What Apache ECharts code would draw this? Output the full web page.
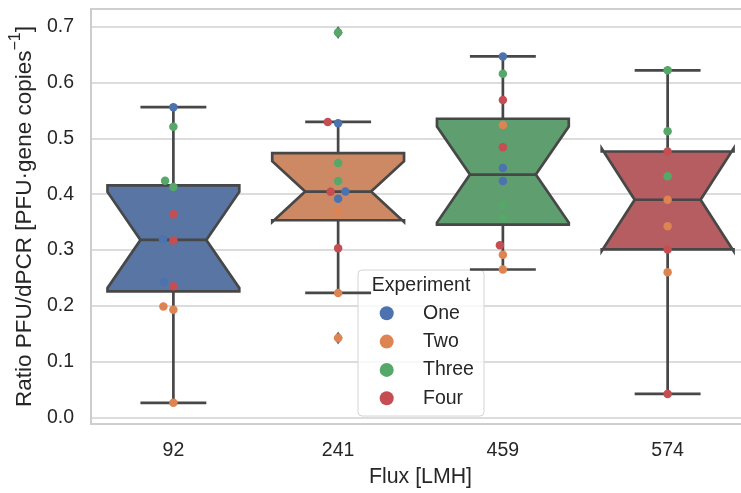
<!DOCTYPE html>
<html><head><meta charset="utf-8">
<script src="https://cdn.jsdelivr.net/npm/echarts@6/dist/echarts.min.js"></script>
<style>html,body{margin:0;padding:0;background:#fff;overflow:hidden;width:741px;height:493px}#c{width:760px;height:493px}</style>
</head><body><div id="c"></div>
<script>
// ---- data ----
const fluxLabels = ['92', '241', '459', '574'];
const experimentNames = ['One', 'Two', 'Three', 'Four'];
// values per flux category, for each experiment
const expOne   = [[0.556, 0.319, 0.2425], [0.527, 0.405, 0.392], [0.647, 0.447, 0.4235], []];
const expTwo   = [[0.193, 0.1985, 0.026], [0.370, 0.223, 0.142], [0.524, 0.2914, 0.265], [0.390, 0.3425, 0.260]];
const expThree = [[0.521, 0.424, 0.413], [0.690, 0.4557, 0.4235], [0.616, 0.381, 0.3575], [0.622, 0.513, 0.432]];
const expFour  = [[0.364, 0.317, 0.235], [0.5295, 0.4045, 0.303], [0.569, 0.484, 0.3086], [0.4765, 0.301, 0.042]];
const experiments = [expOne, expTwo, expThree, expFour];
const yTitle = 'Ratio PFU/dPCR [PFU·gene copies';
const ySup = '−1';
const xTitle = 'Flux [LMH]';
const legendTitle = 'Experiment';

// ---- style ----
const pointColors = ['#4c72b0', '#dd8452', '#55a868', '#c44e52'];
const boxColors = ['#5875a3', '#cc8963', '#5f9e6e', '#b55d60'];
const edge = '#474747';
const textColor = '#262626';
const FONT = "'Liberation Sans', Arial, sans-serif";

function quantile(s, p) {
  const pos = (s.length - 1) * p, lo = Math.floor(pos), hi = Math.ceil(pos);
  return s[lo] + (s[hi] - s[lo]) * (pos - lo);
}
function boxStats(vals) {
  const s = vals.slice().sort((a, b) => a - b);
  const q1 = quantile(s, 0.25), med = quantile(s, 0.5), q3 = quantile(s, 0.75);
  const iqr = q3 - q1, n = s.length;
  const nd = 1.57 * iqr / Math.sqrt(n);
  const lo = q1 - 1.5 * iqr, hi = q3 + 1.5 * iqr;
  const inside = s.filter(v => v >= lo && v <= hi);
  const wlo = Math.min(q1, Math.min(...inside));
  const whi = Math.max(q3, Math.max(...inside));
  const out = s.filter(v => v < lo || v > hi);
  return { q1, med, q3, nlo: med - nd, nhi: med + nd, wlo, whi, out };
}

const boxData = [], flierData = [];
fluxLabels.forEach((_, ci) => {
  const all = [];
  experiments.forEach(e => e[ci].forEach(v => all.push(v)));
  const st = boxStats(all);
  boxData.push([ci, st.q1, st.med, st.q3, st.nlo, st.nhi, st.wlo, st.whi]);
  st.out.forEach(v => flierData.push([ci, v]));
});

function renderBox(params, api) {
  const x = api.value(0);
  const q1 = api.value(1), med = api.value(2), q3 = api.value(3),
        nlo = api.value(4), nhi = api.value(5), wlo = api.value(6), whi = api.value(7);
  const half = 0.4, capHalf = 0.2;
  const P = (dx, y) => api.coord([x + dx, y]);
  const ls = { stroke: edge, lineWidth: 2.7, lineCap: 'butt' };
  const seg = (a, b) => ({ type: 'line', shape: { x1: a[0], y1: a[1], x2: b[0], y2: b[1] }, style: ls });
  const pts = [P(-half, q1), P(half, q1), P(half, nlo), P(capHalf, med), P(half, nhi), P(half, q3),
               P(-half, q3), P(-half, nhi), P(-capHalf, med), P(-half, nlo)];
  return {
    type: 'group',
    children: [
      seg(P(0, q1), P(0, wlo)),
      seg(P(0, q3), P(0, whi)),
      seg(P(-capHalf, wlo), P(capHalf, wlo)),
      seg(P(-capHalf, whi), P(capHalf, whi)),
      { type: 'polygon', shape: { points: pts },
        style: { fill: boxColors[params.dataIndex], stroke: edge, lineWidth: 2.7, lineJoin: 'miter' } },
      seg(P(-capHalf, med), P(capHalf, med))
    ]
  };
}

const chart = echarts.init(document.getElementById('c'), null, { renderer: 'canvas' });

const baseOption = {
  animation: false,
  backgroundColor: '#ffffff',
  grid: { left: 90, top: 9, width: 660, height: 417, show: true, borderColor: '#cccccc', borderWidth: 2, backgroundColor: 'transparent' },
  xAxis: {
    type: 'value', min: -0.5, max: 3.5, minInterval: 1, maxInterval: 1,
    axisLine: { show: false }, axisTick: { show: false }, splitLine: { show: false },
    axisLabel: { show: true, margin: 17, fontSize: 19.5, fontFamily: FONT, color: textColor,
      showMinLabel: false, showMaxLabel: false,
      formatter: v => (Number.isInteger(v) && fluxLabels[v] !== undefined) ? fluxLabels[v] : '' },
    name: xTitle, nameLocation: 'middle', nameGap: 43,
    nameTextStyle: { fontSize: 21.3, fontFamily: FONT, color: textColor }
  },
  yAxis: {
    type: 'value', min: -0.012, max: 0.732, minInterval: 0.1, maxInterval: 0.1,
    axisLine: { show: false }, axisTick: { show: false },
    splitLine: { show: true, lineStyle: { color: '#d0d0d0', width: 1.5 } },
    axisLabel: { margin: 17, fontSize: 19.5, fontFamily: FONT, color: textColor,
      showMinLabel: false, showMaxLabel: false,
      formatter: v => (Math.abs(v * 10 - Math.round(v * 10)) < 1e-6) ? v.toFixed(1) : '' },
    name: '{n|' + yTitle + '}{s|' + ySup + '}{n|]}', nameLocation: 'middle', nameGap: 52,
    nameTextStyle: { fontFamily: FONT, color: textColor,
      rich: { n: { fontSize: 22.5, fontFamily: FONT, color: textColor, lineHeight: 28, verticalAlign: 'bottom' },
              s: { fontSize: 16, fontFamily: FONT, color: textColor, lineHeight: 28, verticalAlign: 'top' } } }
  },
  series: [
    { type: 'custom', name: 'box', renderItem: renderBox, data: boxData, z: 2,
      encode: { x: 0, y: [1, 2, 3, 4, 5, 6, 7] }, silent: true },
    { type: 'scatter', name: 'fliers', data: flierData, symbol: 'diamond', symbolSize: [9, 13],
      itemStyle: { color: edge }, z: 3, silent: true }
  ]
};
chart.setOption(baseOption);

// swarm placement in pixel space (seaborn-like)
const p0 = chart.convertToPixel({ gridIndex: 0 }, [0, 0]);
const p1 = chart.convertToPixel({ gridIndex: 0 }, [1, 0.1]);
const sx = p1[0] - p0[0];
const sy = (p0[1] - p1[1]) / 0.1;
const D = 10;
const pointSeriesData = experimentNames.map(() => []);
fluxLabels.forEach((_, ci) => {
  const pts = [];
  experiments.forEach((e, ei) => e[ci].forEach(v => pts.push({ v, ei })));
  pts.sort((a, b) => a.v - b.v);
  const placed = [];
  pts.forEach(p => {
    const y = p.v * sy;
    const neigh = placed.filter(q => Math.abs(q.y - y) < D);
    const cands = [0];
    let leftFirst = true;
    neigh.forEach(q => {
      const dy = y - q.y;
      const dx = Math.sqrt(Math.max(D * D - dy * dy, 0)) * 1.05;
      const cl = q.x - dx, cr = q.x + dx;
      if (leftFirst) cands.push(cl, cr); else cands.push(cr, cl);
      leftFirst = !leftFirst;
    });
    const order = cands.map((c, i) => [c, i]).sort((a, b) => (Math.abs(a[0]) - Math.abs(b[0])) || (a[1] - b[1]));
    let xs = 0;
    for (const [c] of order) {
      if (neigh.every(q => Math.hypot(q.x - c, q.y - y) >= D - 1e-6)) { xs = c; break; }
    }
    placed.push({ x: xs, y });
    pointSeriesData[p.ei].push([ci + xs / sx, p.v]);
  });
});

const legendX = 358, legendY = 270;
const legendChildren = [
  { type: 'rect', shape: { x: 0, y: 0, width: 126, height: 146, r: 4 },
    style: { fill: 'rgba(255,255,255,0.8)', stroke: '#d4d4d4', lineWidth: 1 } },
  { type: 'text', x: 63, y: 16, style: { text: legendTitle, font: '19.5px ' + FONT, fill: textColor, align: 'center', verticalAlign: 'middle' } }
];
experimentNames.forEach((nm, i) => {
  legendChildren.push({ type: 'circle', shape: { cx: 28.7, cy: 43.3 + i * 28.3, r: 7 }, style: { fill: pointColors[i] } });
  legendChildren.push({ type: 'text', x: 65, y: 43.3 + i * 28.3,
    style: { text: nm, font: '19.5px ' + FONT, fill: textColor, align: 'left', verticalAlign: 'middle' } });
});

chart.setOption({
  series: baseOption.series.concat(experimentNames.map((nm, i) => ({
    type: 'scatter', name: nm, data: pointSeriesData[i], symbol: 'circle', symbolSize: 8.5,
    itemStyle: { color: pointColors[i], opacity: 1 }, z: 4, silent: true
  }))),
  graphic: [{ type: 'group', x: legendX, y: legendY, z: 100, children: legendChildren }]
});
</script>
</body></html>
